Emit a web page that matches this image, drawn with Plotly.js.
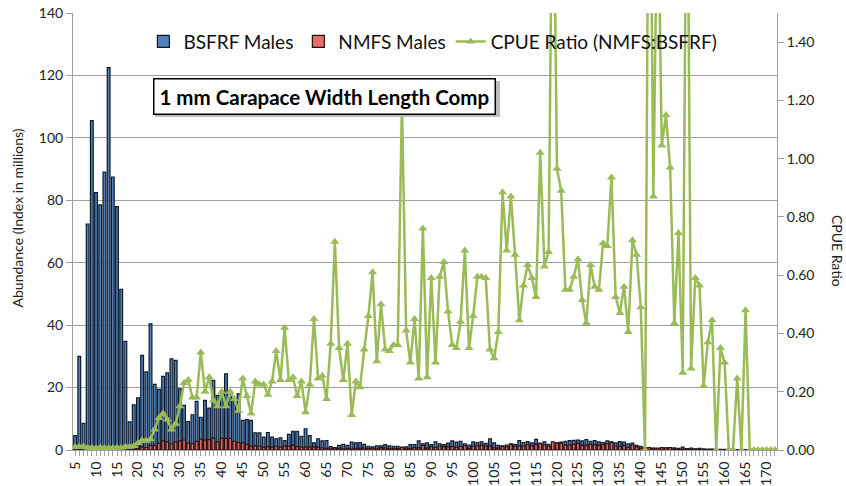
<!DOCTYPE html>
<html>
<head>
<meta charset="utf-8">
<script src="https://cdn.plot.ly/plotly-3.0.1.min.js"></script>
<style>
  html, body { margin: 0; padding: 0; background: #fff; }
  #chart { width: 846px; height: 486px; }
</style>
</head>
<body>
<div id="chart"></div>
<script>
// carapace width bins, 1 mm, 5..172
const widths = Array.from({ length: 168 }, (_, i) => i + 5);

// BSFRF males abundance (index in millions), one value per bin starting at 5 mm
const bsfrf = [
  4.6, 30, 8.5, 72.4, 105.5, 82.5, 78.5, 89, 122.5, 87.4,      // 5-14
  78, 51.5, 34.8, 9, 14.5, 16.7, 30.3, 25, 40.4, 21,           // 15-24
  19.4, 23.6, 24.7, 29.2, 28.7, 19.6, 14.3, 9.1, 11.3, 15.6,   // 25-34
  10.5, 15.9, 13.4, 22.3, 17.5, 18.5, 24.4, 18.5, 15.9, 18.0,  // 35-44
  9.5, 9.7, 9.5, 5.5, 5.5, 4.1, 5.6, 4.1, 3.6, 3.9,            // 45-54
  3.0, 5.0, 6.0, 6.0, 4.4, 6.8, 4.6, 2.3, 3.6, 2.9,            // 55-64
  3.0, 1.1, 0.8, 1.5, 1.8, 1.5, 2.5, 2.3, 2.4, 1.8,            // 65-74
  1.2, 1.0, 1.3, 1.3, 1.7, 1.3, 1.2, 1.2, 0.8, 1.0,            // 75-84
  1.7, 1.7, 2.9, 2.0, 2.3, 1.7, 2.6, 2.0, 1.7, 2.2,            // 85-94
  2.9, 2.5, 2.8, 2.0, 1.6, 2.6, 2.4, 2.6, 2.1, 3.6,            // 95-104
  2.3, 1.5, 1.3, 1.6, 2.0, 1.8, 3.0, 2.4, 2.7, 2.3,            // 105-114
  3.4, 2.1, 2.6, 1.8, 1.2, 2.3, 2.5, 2.8, 3.0, 3.1,            // 115-124
  3.2, 2.9, 3.3, 2.8, 3.0, 2.6, 2.4, 2.9, 2.6, 2.3,            // 125-134
  2.7, 2.5, 2.0, 2.2, 1.5, 1.2, 0.8, 0.3, 0.6, 0.3,            // 135-144
  0.7, 0.6, 0.8, 0.7, 0.5, 0.9, 0.2, 0.6, 0.4, 0.5,            // 145-154
  0.4, 0.3, 0.3, 0.2, 0.2, 0.2, 0.1, 0.1, 0.1, 0.1,            // 155-164
  0.1, 0, 0, 0, 0, 0, 0, 0                                     // 165-172
];

// NMFS males abundance
const nmfs = [
  0.05, 0.3, 0.1, 0.6, 0.8, 0.6, 0.7, 0.6, 0.9, 0.6,           // 5-14
  0.7, 0.4, 0.4, 0.1, 0.2, 0.4, 1.0, 0.8, 1.5, 1.5,            // 15-24
  2.1, 2.9, 2.6, 2.0, 2.6, 2.9, 3.2, 2.2, 2.0, 2.8,            // 25-34
  3.5, 3.2, 3.3, 3.8, 2.6, 3.7, 3.7, 3.7, 2.8, 2.4,            // 35-44
  2.3, 1.8, 1.2, 1.3, 1.2, 0.9, 1.1, 1.0, 1.2, 0.9,            // 45-54
  1.3, 1.2, 1.5, 1.1, 1.0, 0.9, 1.0, 1.0, 0.9, 0.7,            // 55-64
  0.5, 0.4, 0.6, 0.5, 0.4, 0.5, 0.3, 0.5, 0.5, 0.6,            // 65-74
  0.55, 0.6, 0.4, 0.65, 0.6, 0.45, 0.45, 0.45, 0.95, 0.4,      // 75-84
  0.5, 0.75, 0.7, 1.5, 0.6, 1.0, 0.8, 1.2, 1.1, 1.0,           // 85-94
  1.05, 0.9, 1.2, 1.4, 0.55, 1.2, 1.4, 1.55, 1.25, 1.25,       // 95-104
  0.7, 0.6, 1.15, 1.1, 1.75, 1.2, 1.35, 1.35, 1.7, 1.35,       // 105-114
  1.8, 2.15, 1.65, 1.2, 2.6, 2.2, 2.2, 1.55, 1.65, 1.85,       // 115-124
  2.1, 1.5, 1.45, 1.8, 1.7, 1.45, 1.7, 2.0, 2.45, 1.2,         // 125-134
  1.25, 1.4, 0.8, 1.6, 1.0, 0.6, 0, 0.75, 0.5, 0.6,            // 135-144
  0.75, 0.7, 0.8, 0.3, 0.35, 0.25, 0.45, 0.15, 0.25, 0.3,      // 145-154
  0.1, 0.1, 0.15, 0, 0.07, 0.06, 0, 0, 0.03, 0,                // 155-164
  0.05, 0, 0, 0, 0, 0, 0, 0                                    // 165-172
];

// CPUE ratio NMFS:BSFRF (right axis); a few bins run off the top of the axis
const cpueRatio = [
  0.010, 0.010, 0.012, 0.008, 0.008, 0.007, 0.009, 0.007, 0.007, 0.007, // 5-14
  0.009, 0.008, 0.011, 0.011, 0.014, 0.024, 0.033, 0.032, 0.037, 0.070, // 15-24
  0.110, 0.125, 0.105, 0.070, 0.090, 0.150, 0.230, 0.240, 0.180, 0.180, // 25-34
  0.335, 0.200, 0.250, 0.170, 0.150, 0.200, 0.150, 0.200, 0.175, 0.135, // 35-44
  0.245, 0.185, 0.125, 0.235, 0.225, 0.225, 0.190, 0.235, 0.340, 0.240, // 45-54
  0.420, 0.240, 0.250, 0.185, 0.235, 0.130, 0.225, 0.450, 0.245, 0.255, // 55-64
  0.175, 0.365, 0.715, 0.350, 0.240, 0.365, 0.120, 0.235, 0.215, 0.345, // 65-74
  0.460, 0.610, 0.305, 0.500, 0.345, 0.340, 0.360, 0.360, 1.200, 0.410, // 75-84
  0.300, 0.450, 0.245, 0.760, 0.250, 0.590, 0.300, 0.595, 0.645, 0.475, // 85-94
  0.360, 0.350, 0.440, 0.685, 0.350, 0.460, 0.595, 0.595, 0.590, 0.345, // 95-104
  0.315, 0.405, 0.885, 0.685, 0.870, 0.670, 0.445, 0.565, 0.635, 0.590, // 105-114
  0.525, 1.020, 0.630, 0.680, 2.200, 0.965, 0.890, 0.550, 0.550, 0.595, // 115-124
  0.655, 0.515, 0.435, 0.635, 0.560, 0.550, 0.710, 0.700, 0.935, 0.525, // 125-134
  0.470, 0.560, 0.405, 0.720, 0.670, 0.490, 0, 2.500, 0.870, 2.000,     // 135-144
  1.045, 1.150, 0.970, 0.435, 0.745, 0.265, 2.300, 0.280, 0.590, 0.565, // 145-154
  0.220, 0.370, 0.445, 0, 0.350, 0.300, 0, 0, 0.245, 0,                 // 155-164
  0.480, 0, 0, 0, 0, 0, 0, 0                                            // 165-172
];

// labels only every 5 mm, tick marks on every bin
const tickText = widths.map(w => (w % 5 === 0 ? String(w) : ''));

const FONT = 'Lato, "Open Sans", sans-serif';
const GRID = '#a0a0a0';
const GREEN = '#9bbb59';

const traces = [
  {
    type: 'bar',
    name: 'BSFRF Males',
    x: widths,
    y: bsfrf,
    width: 0.66,
    marker: { color: '#4f81bd', line: { color: '#0e1a2a', width: 1.2 } }
  },
  {
    type: 'bar',
    name: 'NMFS Males',
    x: widths,
    y: nmfs,
    width: 0.66,
    marker: { color: '#e46c6a', line: { color: '#2a1010', width: 1.2 } }
  },
  {
    type: 'scatter',
    mode: 'lines+markers',
    name: 'CPUE Ratio (NMFS:BSFRF)',
    x: widths,
    y: cpueRatio,
    yaxis: 'y2',
    line: { color: GREEN, width: 2.5 },
    marker: { symbol: 'triangle-up', size: 8, color: GREEN }
  }
];

const title = '1 mm Carapace Width Length Comp';

const layout = {
  width: 846,
  height: 486,
  margin: { l: 73, r: 69, t: 13, b: 36 },
  paper_bgcolor: '#ffffff',
  plot_bgcolor: '#ffffff',
  font: { family: FONT, size: 14, color: '#222222' },
  barmode: 'overlay',
  showlegend: true,
  legend: {
    orientation: 'h',
    x: 0.1,
    xanchor: 'left',
    y: 0.978,
    yanchor: 'top',
    bgcolor: 'rgba(0,0,0,0)',
    font: { family: FONT, size: 19, color: '#111111' },
    itemwidth: 30,
    traceorder: 'normal'
  },
  xaxis: {
    type: 'category',
    tickmode: 'array',
    tickvals: widths,
    ticktext: tickText,
    tickangle: -90,
    tickfont: { size: 14 },
    ticks: 'outside',
    ticklen: 5,
    tickcolor: GRID,
    showline: true,
    linecolor: GRID,
    showgrid: false,
    range: [-0.5, widths.length - 0.5]
  },
  yaxis: {
    range: [0, 140],
    dtick: 20,
    showgrid: true,
    gridcolor: GRID,
    gridwidth: 1,
    showline: true,
    linecolor: GRID,
    ticks: 'outside',
    ticklen: 6,
    tickcolor: GRID,
    zeroline: false,
    tickfont: { size: 14 }
  },
  yaxis2: {
    overlaying: 'y',
    side: 'right',
    range: [0, 1.5],
    tickvals: [0, 0.2, 0.4, 0.6, 0.8, 1.0, 1.2, 1.4],
    tickformat: '.2f',
    showgrid: false,
    zeroline: false,
    showline: true,
    linecolor: GRID,
    ticks: 'outside',
    ticklen: 6,
    tickcolor: GRID,
    tickfont: { size: 14 }
  },
  shapes: [
    // drop shadow behind the title box
    {
      type: 'rect', xref: 'paper', yref: 'paper', layer: 'above',
      x0: 0.1165, x1: 0.6065, y0: 0.762, y1: 0.8444,
      fillcolor: '#bdbdbd', line: { width: 0 }
    }
  ],
  annotations: [
    {
      xref: 'paper', yref: 'paper', x: 0.357, y: 0.81,
      xanchor: 'center', yanchor: 'middle',
      text: '<b>' + title + '</b>',
      showarrow: false,
      font: { family: FONT, size: 20.5, color: '#000000' },
      bgcolor: '#ffffff', bordercolor: '#000000', borderwidth: 1.5, borderpad: 5
    },
    {
      xref: 'paper', yref: 'paper', x: -0.0795, y: 0.53,
      xanchor: 'center', yanchor: 'middle',
      text: 'Abundance (Index in millions)',
      textangle: -90,
      showarrow: false,
      font: { family: FONT, size: 14, color: '#222222' }
    },
    {
      xref: 'paper', yref: 'paper', x: 1.087, y: 0.455,
      xanchor: 'center', yanchor: 'middle',
      text: 'CPUE Ratio',
      textangle: 90,
      showarrow: false,
      font: { family: FONT, size: 14, color: '#222222' }
    }
  ]
};

Plotly.newPlot('chart', traces, layout, { staticPlot: true, displayModeBar: false });
</script>
</body>
</html>
